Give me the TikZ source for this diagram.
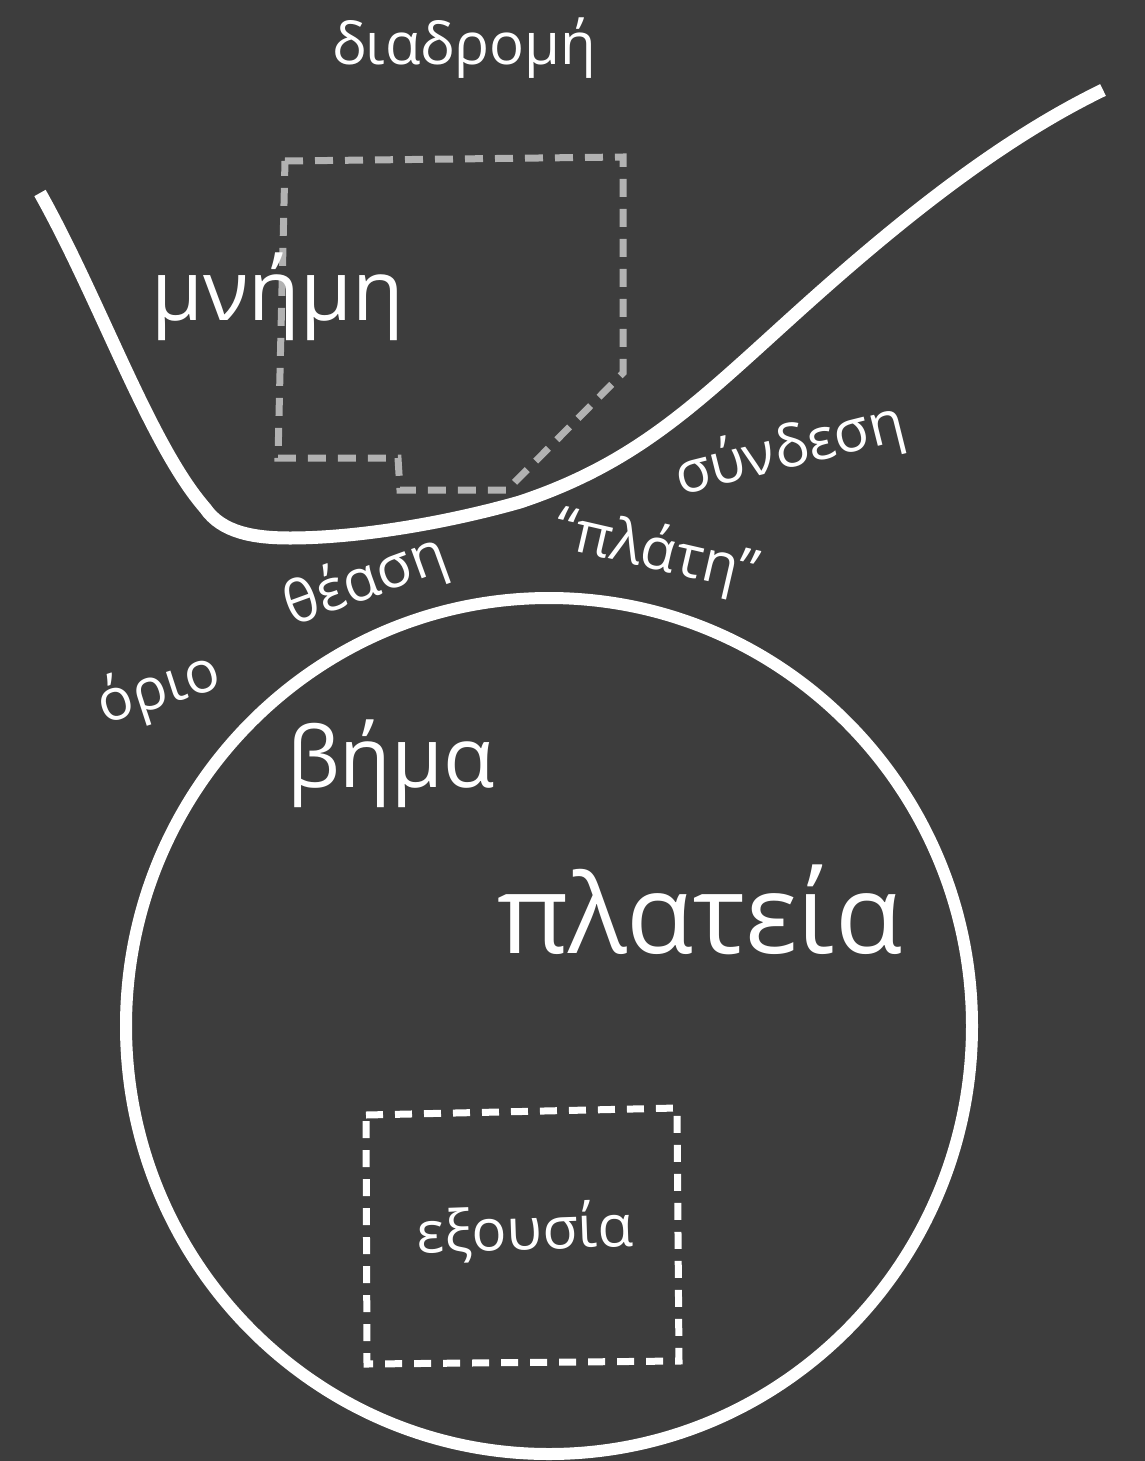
\documentclass[tikz,border=0pt]{standalone}
\usepackage{fontspec}
\setmainfont{Open Sans}
\definecolor{bg}{HTML}{3D3D3D}
\definecolor{dashgray}{HTML}{B2B2B2}
\begin{document}
\begin{tikzpicture}[x=1pt,y=-1pt,
  lbl/.style={text=white, inner sep=0pt},
  small/.style={lbl, font=\fontsize{58}{64}\selectfont},
  big/.style={lbl, font=\fontsize{84}{94}\selectfont},
  huge/.style={lbl, font=\fontsize{110}{120}\selectfont},
  thickline/.style={white, line width=13pt},
  graybox/.style={dashgray, line width=7pt, dash pattern=on 18pt off 12pt},
  whitebox/.style={white, line width=7pt, dash pattern=on 17pt off 12pt}]
\fill[bg] (0,0) rectangle (1145,1461);
\useasboundingbox (0,0) rectangle (1145,1461);

% route curve
\coordinate (c0) at (40,193);
\coordinate (c1) at (205,508);
\coordinate (c2) at (290,538);
\coordinate (c3) at (520,502);
\coordinate (c4) at (800,310);
\coordinate (c5) at (1103,90);
\draw[thickline] (c0) .. controls (100,300) and (150,445) .. (c1)
  .. controls (222,533) and (255,538) .. (c2)
  .. controls (360,538) and (450,522) .. (c3)
  .. controls (640,462) and (700,400) .. (c4)
  .. controls (900,220) and (1000,140) .. (c5);

% memory dashed outline
\draw[graybox] (285,161) -- (623,157) -- (623,373) -- (507,490) -- (400,490) -- (398,458) -- (278,458) -- cycle;

% square (circle)
\draw[white, line width=12pt] (549,1026) ellipse [x radius=423pt, y radius=428pt];

% power dashed box
\draw[whitebox] (366,1115) -- (677,1108) -- (679,1361) -- (367,1364) -- cycle;

% labels
\node[small, anchor=base] (diadromi) at (464,65) {διαδρομή};
\node[big, anchor=base west] (mnimi) at (151,320) {μνήμη};
\node[small, rotate=14] (syndesi) at (790,451) {σύνδεση};
\node[small, rotate=-13] (plati) at (656,553) {“πλάτη”};
\node[small, rotate=20] (theasi) at (366,582) {θέαση};
\node[small, rotate=18] (orio) at (159,690) {όριο};
\node[big, anchor=base west] (vima) at (287,787) {βήμα};
\node[huge, anchor=base west] (plateia) at (497,953) {πλατεία};
\node[small, rotate=2] (exousia) at (525,1232) {εξουσία};
\end{tikzpicture}
\end{document}
